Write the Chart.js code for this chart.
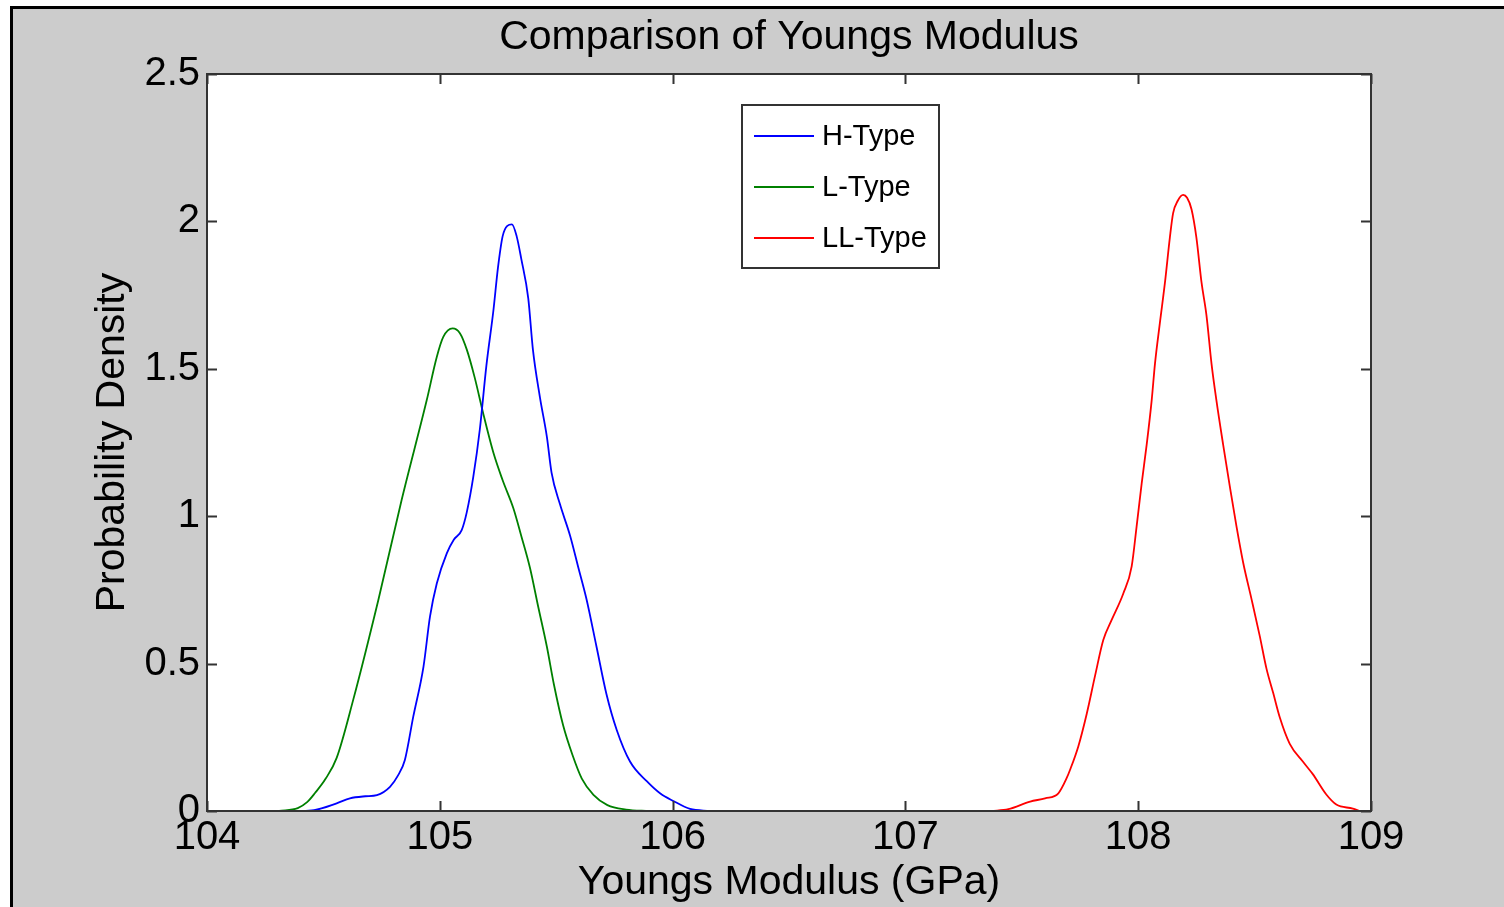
<!DOCTYPE html>
<html lang="en">
<head>
  <meta charset="UTF-8" />
  <title>Comparison of Youngs Modulus</title>
  <script src="https://cdn.jsdelivr.net/npm/chart.js"></script>
  <style>
    html, body { margin: 0; padding: 0; background: #fff; }
    body { width: 1504px; height: 907px; overflow: hidden; position: relative; }
    #fig {
      position: absolute; left: 10px; top: 6px;
      width: 1494px; height: 901px; box-sizing: border-box;
      border-top: 3px solid #000; border-left: 3px solid #000;
      background: #cccccc;
    }
    #chart { position: absolute; left: 0; top: 0; }
  </style>
</head>
<body>
  <div id="fig"></div>
  <canvas id="chart" width="1504" height="907"></canvas>

  <script>
    // density curves (GPa, density)
    const hX = [104.385, 104.46, 104.557, 104.614, 104.68, 104.73, 104.786, 104.82, 104.85, 104.886, 104.93, 104.958, 104.987, 105.03, 105.06, 105.094, 105.116, 105.144, 105.172, 105.2, 105.23, 105.25, 105.27, 105.29, 105.31, 105.33, 105.35, 105.38, 105.40, 105.43, 105.46, 105.48, 105.516, 105.56, 105.595, 105.63, 105.673, 105.716, 105.76, 105.817, 105.889, 105.946, 106.003, 106.075, 106.16];
    const hY = [0, 0.003, 0.026, 0.043, 0.05, 0.054, 0.082, 0.12, 0.173, 0.32, 0.49, 0.66, 0.772, 0.874, 0.92, 0.953, 1.014, 1.134, 1.295, 1.51, 1.696, 1.844, 1.95, 1.985, 1.99, 1.95, 1.873, 1.739, 1.565, 1.404, 1.269, 1.148, 1.041, 0.933, 0.826, 0.719, 0.558, 0.396, 0.275, 0.168, 0.101, 0.06, 0.034, 0.007, 0];

    const lX = [104.31, 104.39, 104.43, 104.464, 104.51, 104.557, 104.628, 104.736, 104.836, 104.944, 104.987, 105.015, 105.055, 105.087, 105.116, 105.15, 105.186, 105.23, 105.27, 105.316, 105.35, 105.387, 105.423, 105.46, 105.49, 105.53, 105.57, 105.61, 105.66, 105.72, 105.80, 105.90];
    const lY = [0, 0.01, 0.03, 0.061, 0.11, 0.18, 0.377, 0.716, 1.055, 1.394, 1.54, 1.608, 1.637, 1.62, 1.565, 1.47, 1.35, 1.216, 1.122, 1.027, 0.933, 0.826, 0.692, 0.557, 0.43, 0.29, 0.19, 0.11, 0.055, 0.02, 0.005, 0];

    const llX = [107.37, 107.442, 107.536, 107.60, 107.657, 107.693, 107.707, 107.743, 107.779, 107.815, 107.85, 107.886, 107.936, 107.972, 107.993, 108.015, 108.036, 108.058, 108.072, 108.093, 108.115, 108.136, 108.15, 108.17, 108.193, 108.21, 108.229, 108.25, 108.272, 108.293, 108.315, 108.336, 108.365, 108.393, 108.422, 108.451, 108.487, 108.522, 108.551, 108.58, 108.608, 108.651, 108.708, 108.75, 108.808, 108.851, 108.922, 108.95];
    const llY = [0, 0.006, 0.032, 0.043, 0.06, 0.112, 0.139, 0.22, 0.33, 0.46, 0.58, 0.648, 0.738, 0.83, 0.964, 1.111, 1.24, 1.394, 1.517, 1.655, 1.793, 1.945, 2.028, 2.07, 2.09, 2.08, 2.041, 1.945, 1.793, 1.683, 1.517, 1.393, 1.242, 1.104, 0.966, 0.842, 0.718, 0.594, 0.483, 0.4, 0.318, 0.228, 0.167, 0.125, 0.056, 0.022, 0.008, 0];

    const seriesNames = ['H-Type', 'L-Type', 'LL-Type'];
    const seriesColors = ['#0000ff', '#008000', '#ff0000'];
    const xTicks = [104, 105, 106, 107, 108, 109];
    const yTicks = [0, 0.5, 1, 1.5, 2, 2.5];

    const FONT = 'Arial, "Liberation Sans", sans-serif';
    const pts = (xs, ys) => xs.map((x, i) => ({ x: x, y: ys[i] }));

    // white axes background, box, inward ticks, title and legend (matlab look)
    const matlabAxes = {
      id: 'matlabAxes',
      beforeDraw(chart) {
        const { ctx, chartArea: a } = chart;
        ctx.save();
        ctx.fillStyle = '#fff';
        ctx.fillRect(a.left, a.top, a.right - a.left, a.bottom - a.top);
        ctx.restore();
      },
      afterDatasetsDraw(chart) {
        const { ctx, chartArea: a, scales } = chart;
        const tl = 10;
        ctx.save();
        ctx.strokeStyle = '#333';
        ctx.lineWidth = 2;
        ctx.strokeRect(a.left, a.top, a.right - a.left, a.bottom - a.top);
        ctx.beginPath();
        xTicks.forEach(v => {
          const px = Math.round(scales.x.getPixelForValue(v)) + 0.5;
          ctx.moveTo(px, a.bottom); ctx.lineTo(px, a.bottom - tl);
          ctx.moveTo(px, a.top); ctx.lineTo(px, a.top + tl);
        });
        yTicks.forEach(v => {
          const py = Math.round(scales.y.getPixelForValue(v)) + 0.5;
          ctx.moveTo(a.left, py); ctx.lineTo(a.left + tl, py);
          ctx.moveTo(a.right, py); ctx.lineTo(a.right - tl, py);
        });
        ctx.stroke();

        // legend box
        const bx = a.left + 535, by = a.top + 31, bw = 197, bh = 163;
        ctx.fillStyle = '#fff';
        ctx.fillRect(bx, by, bw, bh);
        ctx.strokeStyle = '#333';
        ctx.lineWidth = 2;
        ctx.strokeRect(bx, by, bw, bh);
        ctx.font = '29px ' + FONT;
        ctx.textBaseline = 'middle';
        ctx.textAlign = 'left';
        chart.data.datasets.forEach((ds, i) => {
          const ly = by + 31 + i * 51;
          ctx.strokeStyle = ds.borderColor;
          ctx.lineWidth = 1.8;
          ctx.beginPath();
          ctx.moveTo(bx + 12, ly); ctx.lineTo(bx + 72, ly);
          ctx.stroke();
          ctx.fillStyle = '#000';
          ctx.fillText(ds.label, bx + 80, ly + 1);
        });

        // title
        ctx.font = '41px ' + FONT;
        ctx.textAlign = 'center';
        ctx.textBaseline = 'alphabetic';
        ctx.fillStyle = '#000';
        ctx.fillText('Comparison of Youngs Modulus', (a.left + a.right) / 2, a.top - 25);
        ctx.restore();
      }
    };

    const ctx = document.getElementById('chart').getContext('2d');
    new Chart(ctx, {
      type: 'line',
      data: {
        datasets: [
          { label: seriesNames[0], data: pts(hX, hY), borderColor: seriesColors[0] },
          { label: seriesNames[1], data: pts(lX, lY), borderColor: seriesColors[1] },
          { label: seriesNames[2], data: pts(llX, llY), borderColor: seriesColors[2] }
        ]
      },
      options: {
        responsive: false,
        animation: false,
        devicePixelRatio: 1,
        layout: { padding: { left: 0, right: 133, top: 74, bottom: 0 } },
        elements: {
          line: { borderWidth: 1.8, cubicInterpolationMode: 'monotone', fill: false },
          point: { radius: 0 }
        },
        plugins: {
          legend: { display: false },
          title: { display: false },
          tooltip: { enabled: false }
        },
        scales: {
          x: {
            type: 'linear', min: 104, max: 109,
            afterBuildTicks: s => { s.ticks = xTicks.map(v => ({ value: v })); },
            afterFit: s => { s.height = 96; },
            grid: { display: false, drawTicks: false },
            border: { display: false },
            ticks: { color: '#000', padding: 3, maxRotation: 0, autoSkip: false, font: { family: FONT, size: 40 } },
            title: {
              display: true, text: 'Youngs Modulus (GPa)', color: '#000',
              font: { family: FONT, size: 41 }, padding: { top: 0, bottom: 0 }
            }
          },
          y: {
            min: 0, max: 2.5,
            afterBuildTicks: s => { s.ticks = yTicks.map(v => ({ value: v })); },
            afterFit: s => { s.width = 207; },
            grid: { display: false, drawTicks: false },
            border: { display: false },
            ticks: { color: '#000', padding: 7, callback: v => String(v), font: { family: FONT, size: 40 } },
            title: {
              display: true, text: 'Probability Density', color: '#000',
              font: { family: FONT, size: 41 }, padding: { top: 88, bottom: 0 }
            }
          }
        }
      },
      plugins: [matlabAxes]
    });
  </script>
</body>
</html>
